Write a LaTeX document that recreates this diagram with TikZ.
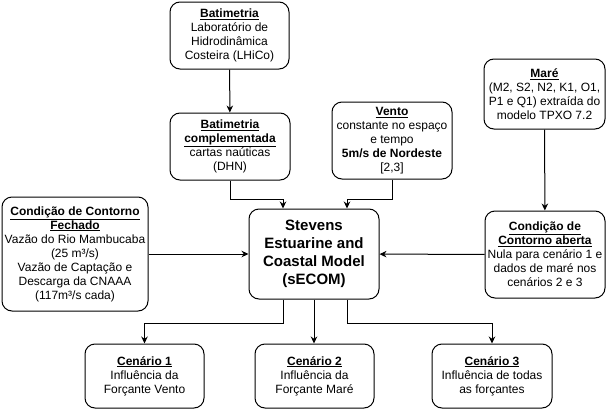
\documentclass[tikz,border=0pt]{standalone}
\usepackage{fontspec}
\usetikzlibrary{arrows.meta}
\setmainfont{Liberation Sans}
\begin{document}
\begin{tikzpicture}[>={Stealth[length=7pt,width=6.5pt]},x=1pt,y=-1pt,line width=1pt,
        caixa/.style={draw,rounded corners=10pt,align=center,inner sep=0pt,font=\fontsize{12}{14}\selectfont},
        titulo/.style={font=\fontsize{15}{18}\selectfont\bfseries}]
        \useasboundingbox (0,0) rectangle (606,410);
        \node[caixa,minimum width=119pt,minimum height=67pt](bat) at (229.5,35.5){\textbf{\underline{Batimetria}}\\Laboratório de\\Hidrodinâmica\\Costeira (LHiCo)};
        \node[caixa,minimum width=120pt,minimum height=67pt](batc) at (230,146.5){\textbf{\underline{Batimetria}}\\\textbf{\underline{complementada}}\\cartas naúticas\\(DHN)};
        \node[caixa,minimum width=120pt,minimum height=77pt](vento) at (392,140.5){\textbf{\underline{Vento}}\\constante no espaço\\e tempo\\\textbf{5m/s de Nordeste}\\{[2,3]}};
        \node[caixa,minimum width=121pt,minimum height=70pt](mare) at (544.5,94){\textbf{\underline{Maré}}\\(M2, S2, N2, K1, O1,\\P1 e Q1) extraída do\\modelo TPXO 7.2};
        \node[caixa,minimum width=120pt,minimum height=87pt](aberta) at (545,254.5){\textbf{\underline{Condição de}}\\\textbf{\underline{Contorno aberta}}\\Nula para cenário 1 e\\dados de maré nos\\cenários 2 e 3};
        \node[caixa,minimum width=146pt,minimum height=114pt](fechado) at (75,254){\textbf{\underline{Condição de Contorno}}\\\textbf{\underline{Fechado}}\\Vazão do Rio Mambucaba\\(25 m³/s)\\Vazão de Captação e\\Descarga da CNAAA\\(117m³/s cada)};
        \node[caixa,titulo,minimum width=130pt,minimum height=90pt](secom) at (314,254){Stevens\\Estuarine and\\Coastal Model\\(sECOM)};
        \node[caixa,minimum width=119pt,minimum height=64pt](c1) at (144.5,376){\textbf{\underline{Cenário 1}}\\Influência da\\Forçante Vento};
        \node[caixa,minimum width=119pt,minimum height=64pt](c2) at (314.5,376){\textbf{\underline{Cenário 2}}\\Influência da\\Forçante Maré};
        \node[caixa,minimum width=120pt,minimum height=64pt](c3) at (492,376){\textbf{\underline{Cenário 3}}\\Influência de todas\\as forçantes};
        \draw[->](bat)--(batc);
        \draw[->](batc.south)--++(0,19)-|([xshift=-31pt]secom.north);
        \draw[->](vento.south)--++(0,20)-|([xshift=33pt]secom.north);
        \draw[->](mare)--(aberta);
        \draw[->](aberta)--(secom);
        \draw[->](fechado)--(secom);
        \draw[->]([xshift=-31pt]secom.south)--++(0,24)-|(c1.north);
        \draw[->](secom.south)--(secom.south|-c2.north);
        \draw[->]([xshift=33pt]secom.south)--++(0,24)-|(c3.north);
        \end{tikzpicture}
\end{document}
